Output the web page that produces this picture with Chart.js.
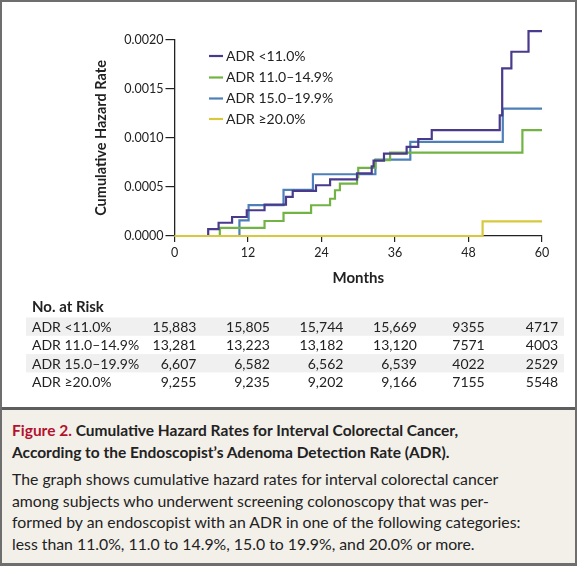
<!DOCTYPE html>
<html>
<head>
<meta charset="utf-8">
<script src="https://cdn.jsdelivr.net/npm/chart.js@4.4.1/dist/chart.umd.min.js"></script>
<style>
  body { margin: 0; background: #fff; font-family: Lato, "Open Sans", sans-serif; }
  #fig { position: relative; width: 577px; height: 566px; box-sizing: border-box; border: 2px solid #6e6e6e; border-bottom-width: 3px; overflow: hidden; }
  #chart { position: absolute; left: -2px; top: -2px; }
  #caption { position: absolute; left: 0; right: 0; top: 405px; bottom: 0; background: #f3f0ea; border-top: 3px solid #5e5e5e; padding: 10px 10px 0 10px; color: #222; }
  #caption .head { font-weight: bold; font-size: 15.5px; line-height: 21.5px; }
  #caption .head span { color: #b3122e; }
  #caption .body { font-size: 15.8px; line-height: 21.5px; margin-top: 5px; }
</style>
</head>
<body>
<div id="fig">
  <canvas id="chart" width="577" height="405"></canvas>
  <div id="caption">
    <div class="head"><span>Figure 2.</span> Cumulative Hazard Rates for Interval Colorectal Cancer,<br>According to the Endoscopist’s Adenoma Detection Rate (ADR).</div>
    <div class="body">The graph shows cumulative hazard rates for interval colorectal cancer<br>among subjects who underwent screening colonoscopy that was per-<br>formed by an endoscopist with an ADR in one of the following categories:<br>less than 11.0%, 11.0 to 14.9%, 15.0 to 19.9%, and 20.0% or more.</div>
  </div>
</div>
<script>
// step curves (month of each step, cumulative hazard after it)
const groupLabels = ["ADR <11.0%", "ADR 11.0–14.9%", "ADR 15.0–19.9%", "ADR ≥20.0%"];
const groupColors = ["#4a3a8c", "#72b444", "#4d80b8", "#d8c93c"];

const lowMonths = [0, 5.5, 7.2, 9.4, 11.8, 14.7, 18.2, 19.3, 23.1, 25.4, 29.8, 32.2, 32.5, 34.2, 37.9, 39.8, 42.0, 53.1, 53.5, 55.0, 57.8, 60];
const lowRates  = [0, 0.00007, 0.000135, 0.000194, 0.000263, 0.00032, 0.0004, 0.00046, 0.000518, 0.000577, 0.00064, 0.00071, 0.00077, 0.00084, 0.00091, 0.00099, 0.00108, 0.00123, 0.00171, 0.00188, 0.00209, 0.00209];

const midMonths = [0, 7.4, 14.7, 17.8, 22.3, 25.4, 26.2, 27.0, 29.8, 30.0, 32.8, 35.2, 56.8, 60];
const midRates  = [0, 0.000082, 0.000153, 0.000235, 0.000314, 0.00038, 0.000467, 0.000535, 0.0006, 0.000695, 0.000774, 0.00085, 0.00108, 0.00108];

const upperMonths = [0, 10.6, 12.1, 17.8, 22.6, 32.8, 38.5, 53.6, 60];
const upperRates  = [0, 0.00016, 0.000315, 0.00047, 0.00063, 0.00078, 0.00096, 0.0013, 0.0013];

const highMonths = [0, 50.3, 60];
const highRates  = [0, 0.00015, 0.00015];

const xTicks = [0, 12, 24, 36, 48, 60];
const yTicks = [0, 0.0005, 0.001, 0.0015, 0.002];

// number at risk table
const riskMonths = [0, 12, 24, 36, 48, 60];
const riskLow   = ["15,883", "15,805", "15,744", "15,669", "9355", "4717"];
const riskMid   = ["13,281", "13,223", "13,182", "13,120", "7571", "4003"];
const riskUpper = ["6,607", "6,582", "6,562", "6,539", "4022", "2529"];
const riskHigh  = ["9,255", "9,235", "9,202", "9,166", "7155", "5548"];

const allMonths = [lowMonths, midMonths, upperMonths, highMonths];
const allRates = [lowRates, midRates, upperRates, highRates];
const allRisk = [riskLow, riskMid, riskUpper, riskHigh];

const FONT = "Lato, 'Open Sans', sans-serif";
const INK = "#222";

const datasets = groupLabels.map((label, i) => ({
  label: label,
  data: allMonths[i].map((m, j) => ({ x: m, y: allRates[i][j] })),
  borderColor: groupColors[i],
  backgroundColor: groupColors[i],
  borderWidth: 2.2,
  pointRadius: 0,
  stepped: "before",
  fill: false,
  clip: false,
  order: i === 3 ? 0 : i + 1
}));

// legend inside the plot + at-risk table under the axis
const extras = {
  id: "extras",
  afterDatasetsDraw(chart) {
    const ctx = chart.ctx;
    const xs = chart.scales.x;
    ctx.save();
    // legend
    const rowY = [55, 76.5, 97.5, 118];
    ctx.font = "14px " + FONT;
    ctx.textBaseline = "middle";
    groupLabels.forEach((label, i) => {
      ctx.strokeStyle = groupColors[i];
      ctx.lineWidth = 2.2;
      ctx.beginPath();
      ctx.moveTo(209, rowY[i] + 1);
      ctx.lineTo(223, rowY[i] + 1);
      ctx.stroke();
      ctx.fillStyle = INK;
      ctx.textAlign = "left";
      ctx.fillText(label, 226, rowY[i] + 1);
    });

    // table: numbers right-aligned, each column centred on its tick by its widest entry
    ctx.font = "bold 15px " + FONT;
    ctx.fillStyle = INK;
    ctx.fillText("No. at Risk", 32, 307);
    ctx.font = "14px " + FONT;
    const colRight = riskMonths.map((m, k) => {
      const w = Math.max(...allRisk.map(r => ctx.measureText(r[k]).width));
      return xs.getPixelForValue(m) + w / 2;
    });
    const top = 317.5, rowH = 18.3;
    groupLabels.forEach((label, i) => {
      const cy = top + rowH * i + rowH / 2 + 1;
      if (i % 2 === 0) {
        ctx.fillStyle = "#f0f0f0";
        ctx.fillRect(26, top + rowH * i, 538, rowH);
      }
      ctx.fillStyle = INK;
      ctx.textAlign = "left";
      ctx.fillText(label, 32, cy);
      ctx.textAlign = "right";
      allRisk[i].forEach((v, k) => {
        ctx.fillText(v, colRight[k], cy);
      });
    });
    ctx.restore();
  }
};

new Chart(document.getElementById("chart").getContext("2d"), {
  type: "line",
  data: { datasets: datasets },
  options: {
    responsive: false,
    animation: false,
    events: [],
    layout: { padding: { left: 90, right: 35, top: 40, bottom: 115 } },
    plugins: { legend: { display: false }, tooltip: { enabled: false } },
    scales: {
      x: {
        type: "linear",
        min: 0,
        max: 60,
        afterBuildTicks: s => { s.ticks = xTicks.map(v => ({ value: v })); },
        afterFit: s => { s.height = 54; },
        ticks: { color: INK, font: { family: FONT, size: 12.5 }, padding: 3, maxRotation: 0 },
        grid: { drawOnChartArea: false, drawTicks: true, tickLength: 6, color: INK, lineWidth: 1.2 },
        border: { display: true, color: INK, width: 1.3 },
        title: { display: true, text: "Months", color: INK, font: { family: FONT, size: 15, weight: "bold" }, padding: { top: 0, bottom: 3 } }
      },
      y: {
        min: 0,
        max: 0.002,
        afterBuildTicks: s => { s.ticks = yTicks.map(v => ({ value: v })); },
        afterFit: s => { s.width = 84.5; },
        ticks: { color: INK, font: { family: FONT, size: 12.5 }, padding: 2, callback: v => v.toFixed(4) },
        grid: { drawOnChartArea: false, drawTicks: true, tickLength: 9, color: INK, lineWidth: 1.2 },
        border: { display: true, color: INK, width: 1.3 },
        title: { display: true, text: "Cumulative Hazard Rate", color: INK, font: { family: FONT, size: 14.5, weight: "bold" }, padding: { top: 3, bottom: 0 } }
      }
    }
  },
  plugins: [extras]
});
</script>
</body>
</html>
